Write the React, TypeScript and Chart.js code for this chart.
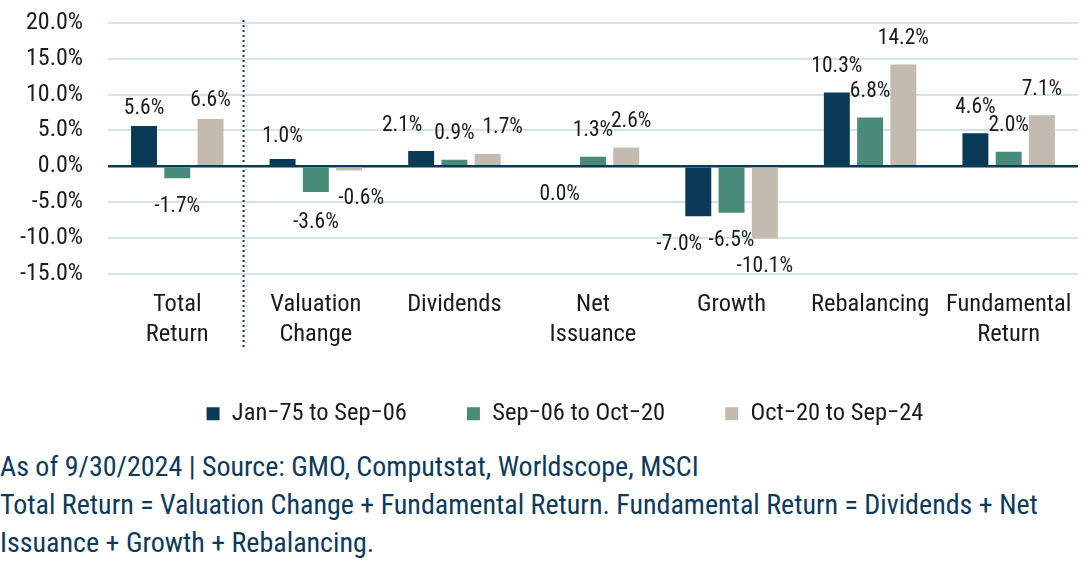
import React, { useEffect, useRef } from "react";
import { Chart, registerables } from "chart.js";

Chart.register(...registerables);

const categories: string[][] = [
  ["Total", "Return"],
  ["Valuation", "Change"],
  ["Dividends"],
  ["Net", "Issuance"],
  ["Growth"],
  ["Rebalancing"],
  ["Fundamental", "Return"],
];
const seriesNames = ["Jan\u221275 to Sep\u221206", "Sep\u221206 to Oct\u221220", "Oct\u221220 to Sep\u221224"];
const jan75Sep06 = [5.6, 1.0, 2.1, 0.0, -7.0, 10.3, 4.6];
const sep06Oct20 = [-1.7, -3.6, 0.9, 1.3, -6.5, 6.8, 2.0];
const oct20Sep24 = [6.6, -0.6, 1.7, 2.6, -10.1, 14.2, 7.1];
const yTicks = [-15, -10, -5, 0, 5, 10, 15, 20];

const FONT = "'Roboto Condensed', 'Liberation Sans Narrow', Roboto, sans-serif";
const NAVY = "#0b3a57";
const GREEN = "#4a8a78";
const BEIGE = "#c3bbb0";
const GRID = "#d3e3ec";
const TEXT = "#1a1a1a";

// label nudges (pixels) keyed by "dataset-index:category-index"
const labelNudge: Record<string, [number, number]> = {
  "0:0": [0, 9],
  "2:0": [0, 8],
  "0:1": [0, 4],
  "1:1": [0, 3],
  "2:1": [12, 0],
  "0:2": [-19, 1],
  "2:2": [15, 0],
  "2:3": [5, 0],
  "0:4": [-19, 0],
};

const labelPlugin = {
  id: "valueLabels",
  afterDatasetsDraw(chart: any) {
    const ctx = chart.ctx;
    ctx.save();
    ctx.font = `21.5px ${FONT}`;
    ctx.fillStyle = TEXT;
    ctx.textAlign = "center";
    ctx.textBaseline = "middle";
    chart.data.datasets.forEach((ds: any, di: number) => {
      const meta = chart.getDatasetMeta(di);
      meta.data.forEach((el: any, i: number) => {
        const v = ds.data[i];
        const txt = v.toFixed(1) + "%";
        const n = labelNudge[`${di}:${i}`] || [0, 0];
        const y = v > 0 ? el.y - 26 + n[1] : el.y + 28 + n[1];
        ctx.fillText(txt, el.x + n[0], y);
      });
    });
    ctx.restore();
  },
};

const dividerPlugin = {
  id: "divider",
  afterDraw(chart: any) {
    const ctx = chart.ctx;
    const x = chart.scales.x;
    const px = (x.getPixelForValue(0) + x.getPixelForValue(1)) / 2 - 3;
    ctx.save();
    ctx.strokeStyle = NAVY;
    ctx.lineWidth = 2;
    ctx.setLineDash([2, 3]);
    ctx.beginPath();
    ctx.moveTo(px, 20);
    ctx.lineTo(px, 348);
    ctx.stroke();
    ctx.restore();
  },
};

const legendShiftPlugin = {
  id: "legendShift",
  afterLayout(chart: any) {
    const lg = chart.legend;
    if (!lg) return;
    lg.left += 19;
    lg.right += 19;
    lg.top -= 12;
    lg.bottom -= 12;
  },
};

export default function App() {
  const ref = useRef<HTMLCanvasElement>(null);
  useEffect(() => {
    document.body.style.margin = "0";
    const chart = new Chart(ref.current!, {
      type: "bar",
      data: {
        labels: categories as any,
        datasets: [
          { label: seriesNames[0], data: jan75Sep06, backgroundColor: NAVY },
          { label: seriesNames[1], data: sep06Oct20, backgroundColor: GREEN },
          { label: seriesNames[2], data: oct20Sep24, backgroundColor: BEIGE },
        ],
      },
      options: {
        animation: false,
        responsive: false,
        maintainAspectRatio: false,
        layout: { padding: { top: 23, right: 8, left: 12, bottom: 0 } },
        datasets: { bar: { categoryPercentage: 0.72, barPercentage: 0.78 } },
        plugins: {
          legend: {
            position: "bottom",
            labels: {
              font: { family: FONT, size: 24.5 },
              color: TEXT,
              boxWidth: 13,
              boxHeight: 13,
              padding: 60,
            },
          },
          tooltip: { enabled: false },
        },
        scales: {
          x: {
            grid: { display: false, drawTicks: false },
            border: { display: false },
            ticks: {
              font: { family: FONT, size: 24.5, lineHeight: 1.24 },
              color: TEXT,
              padding: 16,
              maxRotation: 0,
              autoSkip: false,
            },
            afterFit: (s: any) => {
              s.height = 80;
            },
          },
          y: {
            min: -15,
            max: 20,
            afterBuildTicks: (s: any) => {
              s.ticks = yTicks.map((v) => ({ value: v }));
            },
            afterFit: (s: any) => {
              s.width = 96;
              s.paddingTop = 0;
              s.paddingBottom = 0;
            },
            grid: {
              color: (c: any) => (c.tick && c.tick.value === 0 ? NAVY : GRID),
              lineWidth: (c: any) => (c.tick && c.tick.value === 0 ? 2.5 : 2),
              drawTicks: false,
            },
            border: { display: false },
            ticks: {
              font: { family: FONT, size: 24 },
              color: TEXT,
              padding: 25,
              callback: (v: any) => Number(v).toFixed(1) + "%",
            },
          },
        },
      } as any,
      plugins: [labelPlugin, dividerPlugin, legendShiftPlugin],
    });
    return () => chart.destroy();
  }, []);
  return (
    <div style={{ position: "absolute", left: 0, top: 0, width: 1088, height: 566, background: "#fff" }}>
      <canvas ref={ref} width={1088} height={448} style={{ display: "block" }} />
      <div
        style={{
          fontFamily: FONT,
          fontSize: 28,
          color: "#0d3a5c",
          lineHeight: "38px",
          position: "absolute",
          left: 0,
          top: 448,
          whiteSpace: "nowrap",
        }}
      >
        As of 9/30/2024 | Source: GMO, Computstat, Worldscope, MSCI
        <br />
        Total Return = Valuation Change + Fundamental Return. Fundamental Return = Dividends + Net
        <br />
        Issuance + Growth + Rebalancing.
      </div>
    </div>
  );
}
